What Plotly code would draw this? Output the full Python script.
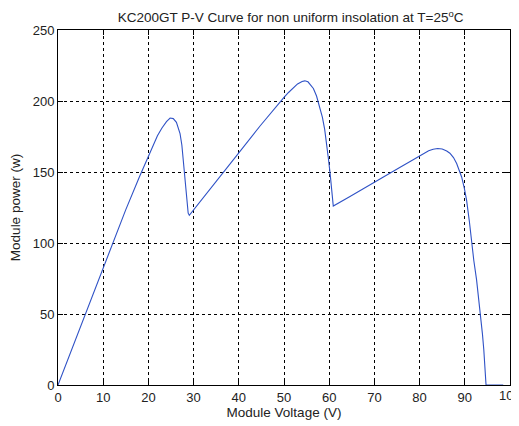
import plotly.graph_objects as go

voltage = [0, 10, 15, 18, 20, 21, 22, 23, 24, 24.8, 25.5, 26.2, 27.0, 27.4, 27.7, 28.1, 28.4, 28.8, 29.05,
           35, 40, 44.7, 48, 50, 51, 52, 53, 54, 54.6, 55.3, 56, 56.5, 57.2, 57.9, 58.5, 59.0, 59.4,
           59.8, 60.2, 60.5, 60.9,
           64.6, 70, 75.6, 78, 80, 81, 82, 83, 84, 85, 86, 86.7, 87.5, 88.2, 88.8, 89.3, 89.9,
           90.4, 91.0, 91.5, 92.0, 92.6, 93.0, 93.5, 93.9, 94.2, 94.5, 94.7, 98.5]
power = [0, 83, 123.5, 146.5, 161, 168.5, 175.5, 181, 185.5, 188, 187.6, 185, 177, 169, 158, 147, 134, 121, 119.5,
         143, 163.5, 182.4, 195.3, 202.5, 206, 209.3, 212, 213.8, 214.2, 213.5, 211, 208.8, 203.5, 196, 188.5, 180, 171,
         160, 149, 137, 126,
         132.7, 143, 153.1, 157.5, 161.5, 163.5, 165, 166, 166.5, 166.2, 164.8, 163.2, 160.2, 156, 151.5, 146.5, 138.5,
         130, 115.5, 100, 87.5, 74.2, 63, 50, 36, 25, 12, 0, 0]

x_ticks = [0, 10, 20, 30, 40, 50, 60, 70, 80, 90]
y_ticks = [0, 50, 100, 150, 200, 250]
edge_tick = 100

tick_font = dict(family="Liberation Sans, Arial, sans-serif", size=13, color="#222222")
label_font = dict(family="Liberation Sans, Arial, sans-serif", size=13.5, color="#222222")

fig = go.Figure()
fig.add_trace(go.Scatter(x=voltage, y=power, mode="lines",
                         line=dict(color="#2f52c6", width=1.1),
                         cliponaxis=False, showlegend=False))

axis_common = dict(showline=True, linecolor="black", linewidth=1, mirror="ticks",
                   ticks="inside", ticklen=5, tickcolor="black",
                   showgrid=True, gridcolor="black", gridwidth=1, griddash="3px,3px",
                   zeroline=False, tickfont=tick_font, automargin=False)

fig.update_xaxes(range=[0, 100], tickvals=x_ticks, ticktext=[str(v) for v in x_ticks],
                 title=dict(text="Module Voltage (V)", font=label_font, standoff=2), **axis_common)
fig.update_yaxes(range=[0, 250], tickvals=y_ticks, ticktext=[str(v) for v in y_ticks],
                 title=dict(text="Module power (w)", font=label_font, standoff=8), **axis_common)

# the last x tick label sits at the right edge of the figure (partly cut, as in the reference)
fig.add_annotation(x=edge_tick, y=0, xref="x", yref="y", text=str(edge_tick), showarrow=False,
                   font=tick_font, xanchor="center", yanchor="top", yshift=-1)

fig.update_layout(
    width=511, height=418,
    margin=dict(l=50, r=9, t=22, b=41),
    paper_bgcolor="white", plot_bgcolor="white",
    title=dict(text="KC200GT P-V Curve for non uniform insolation at T=25<sup>o</sup>C",
               font=label_font, x=0.553, xanchor="center", y=0.988, yanchor="top"),
)

fig.write_html("out.html")
